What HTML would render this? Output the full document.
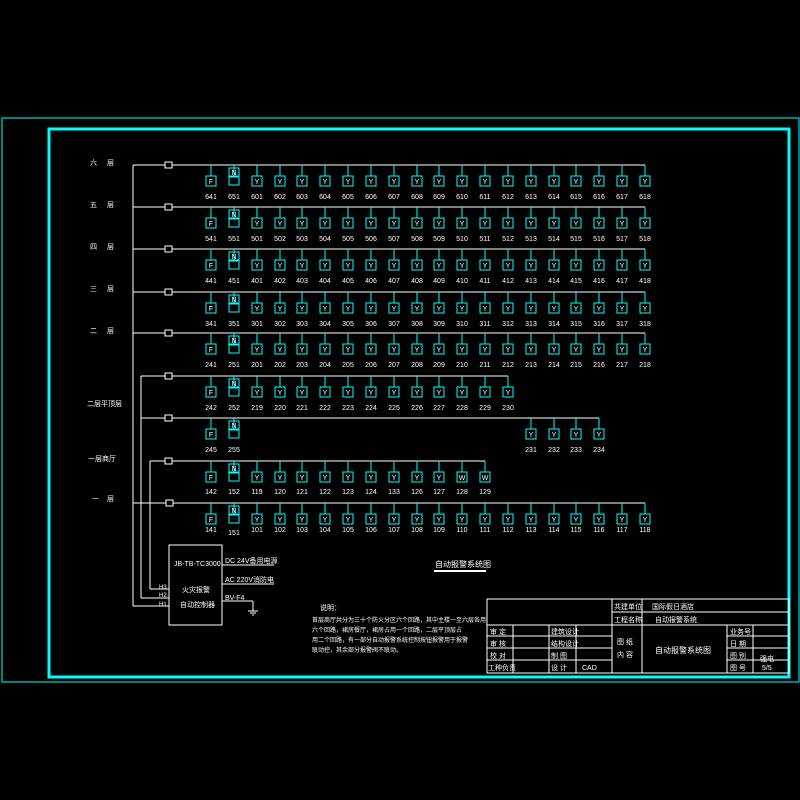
<!DOCTYPE html>
<html><head><meta charset="utf-8"><style>
html,body{margin:0;padding:0;background:#000;width:800px;height:800px;overflow:hidden}
svg{display:block}
text{font-family:"Liberation Sans","Noto Sans CJK SC",sans-serif;fill:#fff}
.l{font-size:7px;text-anchor:middle}
.d{font-size:7px;text-anchor:middle;fill:#0ff}
.c{font-size:7px}
</style></head><body>
<svg width="800" height="800" viewBox="0 0 800 800">
<defs>
<g id="b"><line x1="0" y1="0" x2="0" y2="11" stroke="#0ff"/><rect x="-5" y="11" width="10" height="10" fill="none" stroke="#0ff"/></g>
<g id="n"><line x1="0" y1="0" x2="0" y2="12" stroke="#0ff"/><rect x="-5" y="3" width="10" height="8" fill="none" stroke="#0ff"/><rect x="-5" y="12" width="10" height="8" fill="none" stroke="#0ff"/></g>
</defs>
<rect x="2" y="118" width="797" height="564" fill="none" stroke="#0ff" stroke-width="1"/>
<rect x="49" y="129" width="740" height="548" fill="none" stroke="#0ff" stroke-width="3"/>

<g stroke="#fff" fill="none" stroke-width="1">
<line x1="133" y1="165" x2="133" y2="606"/>
<line x1="141" y1="376" x2="141" y2="598"/>
<line x1="150" y1="461" x2="150" y2="589"/>
<line x1="133" y1="165" x2="645" y2="165"/>
<line x1="133" y1="207" x2="645" y2="207"/>
<line x1="133" y1="249" x2="645" y2="249"/>
<line x1="133" y1="292" x2="645" y2="292"/>
<line x1="133" y1="333" x2="645" y2="333"/>
<line x1="141" y1="376" x2="508" y2="376"/>
<line x1="141" y1="418" x2="599" y2="418"/>
<line x1="150" y1="461" x2="485" y2="461"/>
<line x1="133" y1="503" x2="645" y2="503"/>
<rect x="165" y="162" width="7" height="6" fill="#000"/>
<rect x="165" y="204" width="7" height="6" fill="#000"/>
<rect x="165" y="246" width="7" height="6" fill="#000"/>
<rect x="165" y="289" width="7" height="6" fill="#000"/>
<rect x="165" y="330" width="7" height="6" fill="#000"/>
<rect x="165" y="373" width="7" height="6" fill="#000"/>
<rect x="165" y="415" width="7" height="6" fill="#000"/>
<rect x="165" y="458" width="7" height="6" fill="#000"/>
<rect x="166" y="500" width="7" height="6" fill="#000"/>
<rect x="169" y="545" width="53" height="80"/>
<line x1="150" y1="589" x2="169" y2="589"/>
<line x1="141" y1="598" x2="169" y2="598"/>
<line x1="133" y1="606" x2="169" y2="606"/>
<line x1="222" y1="565" x2="274" y2="565"/>
<line x1="222" y1="584" x2="274" y2="584"/>
<line x1="222" y1="601" x2="253" y2="601"/>
<line x1="253" y1="601" x2="253" y2="611"/>
<line x1="248" y1="611" x2="258" y2="611"/>
<line x1="250" y1="613" x2="256" y2="613"/>
<line x1="252" y1="615" x2="254" y2="615"/>
<line x1="434" y1="571" x2="486" y2="571" stroke-width="2"/>
</g>

<!-- row labels -->
<g class="c">
<text x="90" y="165">六</text><text x="107" y="165">层</text>
<text x="90" y="207">五</text><text x="107" y="207">层</text>
<text x="90" y="249">四</text><text x="107" y="249">层</text>
<text x="90" y="291">三</text><text x="107" y="291">层</text>
<text x="90" y="333">二</text><text x="107" y="333">层</text>
<text x="87" y="406">二层平顶层</text>
<text x="88" y="461">一层商厅</text>
<text x="92" y="501">一</text><text x="107" y="501">层</text>
</g>

<!-- devices: generic rows with 20 columns -->
<g id="rows">
<!-- row 6 -->
<use href="#b" x="211" y="165"/><use href="#n" x="234" y="165"/><use href="#b" x="257" y="165"/><use href="#b" x="280" y="165"/><use href="#b" x="302" y="165"/><use href="#b" x="325" y="165"/><use href="#b" x="348" y="165"/><use href="#b" x="371" y="165"/><use href="#b" x="394" y="165"/><use href="#b" x="417" y="165"/><use href="#b" x="439" y="165"/><use href="#b" x="462" y="165"/><use href="#b" x="485" y="165"/><use href="#b" x="508" y="165"/><use href="#b" x="531" y="165"/><use href="#b" x="554" y="165"/><use href="#b" x="576" y="165"/><use href="#b" x="599" y="165"/><use href="#b" x="622" y="165"/><use href="#b" x="645" y="165"/>
<use href="#b" x="211" y="207"/><use href="#n" x="234" y="207"/><use href="#b" x="257" y="207"/><use href="#b" x="280" y="207"/><use href="#b" x="302" y="207"/><use href="#b" x="325" y="207"/><use href="#b" x="348" y="207"/><use href="#b" x="371" y="207"/><use href="#b" x="394" y="207"/><use href="#b" x="417" y="207"/><use href="#b" x="439" y="207"/><use href="#b" x="462" y="207"/><use href="#b" x="485" y="207"/><use href="#b" x="508" y="207"/><use href="#b" x="531" y="207"/><use href="#b" x="554" y="207"/><use href="#b" x="576" y="207"/><use href="#b" x="599" y="207"/><use href="#b" x="622" y="207"/><use href="#b" x="645" y="207"/>
<use href="#b" x="211" y="249"/><use href="#n" x="234" y="249"/><use href="#b" x="257" y="249"/><use href="#b" x="280" y="249"/><use href="#b" x="302" y="249"/><use href="#b" x="325" y="249"/><use href="#b" x="348" y="249"/><use href="#b" x="371" y="249"/><use href="#b" x="394" y="249"/><use href="#b" x="417" y="249"/><use href="#b" x="439" y="249"/><use href="#b" x="462" y="249"/><use href="#b" x="485" y="249"/><use href="#b" x="508" y="249"/><use href="#b" x="531" y="249"/><use href="#b" x="554" y="249"/><use href="#b" x="576" y="249"/><use href="#b" x="599" y="249"/><use href="#b" x="622" y="249"/><use href="#b" x="645" y="249"/>
<use href="#b" x="211" y="292"/><use href="#n" x="234" y="292"/><use href="#b" x="257" y="292"/><use href="#b" x="280" y="292"/><use href="#b" x="302" y="292"/><use href="#b" x="325" y="292"/><use href="#b" x="348" y="292"/><use href="#b" x="371" y="292"/><use href="#b" x="394" y="292"/><use href="#b" x="417" y="292"/><use href="#b" x="439" y="292"/><use href="#b" x="462" y="292"/><use href="#b" x="485" y="292"/><use href="#b" x="508" y="292"/><use href="#b" x="531" y="292"/><use href="#b" x="554" y="292"/><use href="#b" x="576" y="292"/><use href="#b" x="599" y="292"/><use href="#b" x="622" y="292"/><use href="#b" x="645" y="292"/>
<use href="#b" x="211" y="333"/><use href="#n" x="234" y="333"/><use href="#b" x="257" y="333"/><use href="#b" x="280" y="333"/><use href="#b" x="302" y="333"/><use href="#b" x="325" y="333"/><use href="#b" x="348" y="333"/><use href="#b" x="371" y="333"/><use href="#b" x="394" y="333"/><use href="#b" x="417" y="333"/><use href="#b" x="439" y="333"/><use href="#b" x="462" y="333"/><use href="#b" x="485" y="333"/><use href="#b" x="508" y="333"/><use href="#b" x="531" y="333"/><use href="#b" x="554" y="333"/><use href="#b" x="576" y="333"/><use href="#b" x="599" y="333"/><use href="#b" x="622" y="333"/><use href="#b" x="645" y="333"/>
<use href="#b" x="211" y="376"/><use href="#n" x="234" y="376"/><use href="#b" x="257" y="376"/><use href="#b" x="280" y="376"/><use href="#b" x="302" y="376"/><use href="#b" x="325" y="376"/><use href="#b" x="348" y="376"/><use href="#b" x="371" y="376"/><use href="#b" x="394" y="376"/><use href="#b" x="417" y="376"/><use href="#b" x="439" y="376"/><use href="#b" x="462" y="376"/><use href="#b" x="485" y="376"/><use href="#b" x="508" y="376"/>
<use href="#b" x="211" y="418"/><use href="#n" x="234" y="418"/><use href="#b" x="531" y="418"/><use href="#b" x="554" y="418"/><use href="#b" x="576" y="418"/><use href="#b" x="599" y="418"/>
<use href="#b" x="211" y="461"/><use href="#n" x="234" y="461"/><use href="#b" x="257" y="461"/><use href="#b" x="280" y="461"/><use href="#b" x="302" y="461"/><use href="#b" x="325" y="461"/><use href="#b" x="348" y="461"/><use href="#b" x="371" y="461"/><use href="#b" x="394" y="461"/><use href="#b" x="417" y="461"/><use href="#b" x="439" y="461"/><use href="#b" x="462" y="461"/><use href="#b" x="485" y="461"/>
<use href="#b" x="211" y="503"/><use href="#n" x="234" y="503"/><use href="#b" x="257" y="503"/><use href="#b" x="280" y="503"/><use href="#b" x="302" y="503"/><use href="#b" x="325" y="503"/><use href="#b" x="348" y="503"/><use href="#b" x="371" y="503"/><use href="#b" x="394" y="503"/><use href="#b" x="417" y="503"/><use href="#b" x="439" y="503"/><use href="#b" x="462" y="503"/><use href="#b" x="485" y="503"/><use href="#b" x="508" y="503"/><use href="#b" x="531" y="503"/><use href="#b" x="554" y="503"/><use href="#b" x="576" y="503"/><use href="#b" x="599" y="503"/><use href="#b" x="622" y="503"/><use href="#b" x="645" y="503"/>
</g>

<!-- device letters -->
<g class="d">
<text x="211" y="184">F</text><text x="234" y="175">N</text><text x="257" y="184">Y</text><text x="280" y="184">Y</text><text x="302" y="184">Y</text><text x="325" y="184">Y</text><text x="348" y="184">Y</text><text x="371" y="184">Y</text><text x="394" y="184">Y</text><text x="417" y="184">Y</text><text x="439" y="184">Y</text><text x="462" y="184">Y</text><text x="485" y="184">Y</text><text x="508" y="184">Y</text><text x="531" y="184">Y</text><text x="554" y="184">Y</text><text x="576" y="184">Y</text><text x="599" y="184">Y</text><text x="622" y="184">Y</text><text x="645" y="184">Y</text>
<text x="211" y="226">F</text><text x="234" y="217">N</text><text x="257" y="226">Y</text><text x="280" y="226">Y</text><text x="302" y="226">Y</text><text x="325" y="226">Y</text><text x="348" y="226">Y</text><text x="371" y="226">Y</text><text x="394" y="226">Y</text><text x="417" y="226">Y</text><text x="439" y="226">Y</text><text x="462" y="226">Y</text><text x="485" y="226">Y</text><text x="508" y="226">Y</text><text x="531" y="226">Y</text><text x="554" y="226">Y</text><text x="576" y="226">Y</text><text x="599" y="226">Y</text><text x="622" y="226">Y</text><text x="645" y="226">Y</text>
<text x="211" y="268">F</text><text x="234" y="259">N</text><text x="257" y="268">Y</text><text x="280" y="268">Y</text><text x="302" y="268">Y</text><text x="325" y="268">Y</text><text x="348" y="268">Y</text><text x="371" y="268">Y</text><text x="394" y="268">Y</text><text x="417" y="268">Y</text><text x="439" y="268">Y</text><text x="462" y="268">Y</text><text x="485" y="268">Y</text><text x="508" y="268">Y</text><text x="531" y="268">Y</text><text x="554" y="268">Y</text><text x="576" y="268">Y</text><text x="599" y="268">Y</text><text x="622" y="268">Y</text><text x="645" y="268">Y</text>
<text x="211" y="311">F</text><text x="234" y="302">N</text><text x="257" y="311">Y</text><text x="280" y="311">Y</text><text x="302" y="311">Y</text><text x="325" y="311">Y</text><text x="348" y="311">Y</text><text x="371" y="311">Y</text><text x="394" y="311">Y</text><text x="417" y="311">Y</text><text x="439" y="311">Y</text><text x="462" y="311">Y</text><text x="485" y="311">Y</text><text x="508" y="311">Y</text><text x="531" y="311">Y</text><text x="554" y="311">Y</text><text x="576" y="311">Y</text><text x="599" y="311">Y</text><text x="622" y="311">Y</text><text x="645" y="311">Y</text>
<text x="211" y="352">F</text><text x="234" y="343">N</text><text x="257" y="352">Y</text><text x="280" y="352">Y</text><text x="302" y="352">Y</text><text x="325" y="352">Y</text><text x="348" y="352">Y</text><text x="371" y="352">Y</text><text x="394" y="352">Y</text><text x="417" y="352">Y</text><text x="439" y="352">Y</text><text x="462" y="352">Y</text><text x="485" y="352">Y</text><text x="508" y="352">Y</text><text x="531" y="352">Y</text><text x="554" y="352">Y</text><text x="576" y="352">Y</text><text x="599" y="352">Y</text><text x="622" y="352">Y</text><text x="645" y="352">Y</text>
<text x="211" y="395">F</text><text x="234" y="386">N</text><text x="257" y="395">Y</text><text x="280" y="395">Y</text><text x="302" y="395">Y</text><text x="325" y="395">Y</text><text x="348" y="395">Y</text><text x="371" y="395">Y</text><text x="394" y="395">Y</text><text x="417" y="395">Y</text><text x="439" y="395">Y</text><text x="462" y="395">Y</text><text x="485" y="395">Y</text><text x="508" y="395">Y</text>
<text x="211" y="437">F</text><text x="234" y="428">N</text><text x="531" y="437">Y</text><text x="554" y="437">Y</text><text x="576" y="437">Y</text><text x="599" y="437">Y</text>
<text x="211" y="480">F</text><text x="234" y="471">N</text><text x="257" y="480">Y</text><text x="280" y="480">Y</text><text x="302" y="480">Y</text><text x="325" y="480">Y</text><text x="348" y="480">Y</text><text x="371" y="480">Y</text><text x="394" y="480">Y</text><text x="417" y="480">Y</text><text x="439" y="480">Y</text><text x="462" y="480">W</text><text x="485" y="480">W</text>
<text x="211" y="522">F</text><text x="234" y="513">N</text><text x="257" y="522">Y</text><text x="280" y="522">Y</text><text x="302" y="522">Y</text><text x="325" y="522">Y</text><text x="348" y="522">Y</text><text x="371" y="522">Y</text><text x="394" y="522">Y</text><text x="417" y="522">Y</text><text x="439" y="522">Y</text><text x="462" y="522">Y</text><text x="485" y="522">Y</text><text x="508" y="522">Y</text><text x="531" y="522">Y</text><text x="554" y="522">Y</text><text x="576" y="522">Y</text><text x="599" y="522">Y</text><text x="622" y="522">Y</text><text x="645" y="522">Y</text>
</g>

<!-- numbers -->
<g class="l">
<text x="211" y="199">641</text><text x="234" y="199">651</text><text x="257" y="199">601</text><text x="280" y="199">602</text><text x="302" y="199">603</text><text x="325" y="199">604</text><text x="348" y="199">605</text><text x="371" y="199">606</text><text x="394" y="199">607</text><text x="417" y="199">608</text><text x="439" y="199">609</text><text x="462" y="199">610</text><text x="485" y="199">611</text><text x="508" y="199">612</text><text x="531" y="199">613</text><text x="554" y="199">614</text><text x="576" y="199">615</text><text x="599" y="199">616</text><text x="622" y="199">617</text><text x="645" y="199">618</text>
<text x="211" y="241">541</text><text x="234" y="241">551</text><text x="257" y="241">501</text><text x="280" y="241">502</text><text x="302" y="241">503</text><text x="325" y="241">504</text><text x="348" y="241">505</text><text x="371" y="241">506</text><text x="394" y="241">507</text><text x="417" y="241">508</text><text x="439" y="241">509</text><text x="462" y="241">510</text><text x="485" y="241">511</text><text x="508" y="241">512</text><text x="531" y="241">513</text><text x="554" y="241">514</text><text x="576" y="241">515</text><text x="599" y="241">516</text><text x="622" y="241">517</text><text x="645" y="241">518</text>
<text x="211" y="283">441</text><text x="234" y="283">451</text><text x="257" y="283">401</text><text x="280" y="283">402</text><text x="302" y="283">403</text><text x="325" y="283">404</text><text x="348" y="283">405</text><text x="371" y="283">406</text><text x="394" y="283">407</text><text x="417" y="283">408</text><text x="439" y="283">409</text><text x="462" y="283">410</text><text x="485" y="283">411</text><text x="508" y="283">412</text><text x="531" y="283">413</text><text x="554" y="283">414</text><text x="576" y="283">415</text><text x="599" y="283">416</text><text x="622" y="283">417</text><text x="645" y="283">418</text>
<text x="211" y="326">341</text><text x="234" y="326">351</text><text x="257" y="326">301</text><text x="280" y="326">302</text><text x="302" y="326">303</text><text x="325" y="326">304</text><text x="348" y="326">305</text><text x="371" y="326">306</text><text x="394" y="326">307</text><text x="417" y="326">308</text><text x="439" y="326">309</text><text x="462" y="326">310</text><text x="485" y="326">311</text><text x="508" y="326">312</text><text x="531" y="326">313</text><text x="554" y="326">314</text><text x="576" y="326">315</text><text x="599" y="326">316</text><text x="622" y="326">317</text><text x="645" y="326">318</text>
<text x="211" y="367">241</text><text x="234" y="367">251</text><text x="257" y="367">201</text><text x="280" y="367">202</text><text x="302" y="367">203</text><text x="325" y="367">204</text><text x="348" y="367">205</text><text x="371" y="367">206</text><text x="394" y="367">207</text><text x="417" y="367">208</text><text x="439" y="367">209</text><text x="462" y="367">210</text><text x="485" y="367">211</text><text x="508" y="367">212</text><text x="531" y="367">213</text><text x="554" y="367">214</text><text x="576" y="367">215</text><text x="599" y="367">216</text><text x="622" y="367">217</text><text x="645" y="367">218</text>
<text x="211" y="410">242</text><text x="234" y="410">252</text><text x="257" y="410">219</text><text x="280" y="410">220</text><text x="302" y="410">221</text><text x="325" y="410">222</text><text x="348" y="410">223</text><text x="371" y="410">224</text><text x="394" y="410">225</text><text x="417" y="410">226</text><text x="439" y="410">227</text><text x="462" y="410">228</text><text x="485" y="410">229</text><text x="508" y="410">230</text>
<text x="211" y="452">245</text><text x="234" y="452">255</text><text x="531" y="452">231</text><text x="554" y="452">232</text><text x="576" y="452">233</text><text x="599" y="452">234</text>
<text x="211" y="494">142</text><text x="234" y="494">152</text><text x="257" y="494">119</text><text x="280" y="494">120</text><text x="302" y="494">121</text><text x="325" y="494">122</text><text x="348" y="494">123</text><text x="371" y="494">124</text><text x="394" y="494">133</text><text x="417" y="494">126</text><text x="439" y="494">127</text><text x="462" y="494">128</text><text x="485" y="494">129</text>
<text x="211" y="532">141</text><text x="234" y="535">151</text><text x="257" y="532">101</text><text x="280" y="532">102</text><text x="302" y="532">103</text><text x="325" y="532">104</text><text x="348" y="532">105</text><text x="371" y="532">106</text><text x="394" y="532">107</text><text x="417" y="532">108</text><text x="439" y="532">109</text><text x="462" y="532">110</text><text x="485" y="532">111</text><text x="508" y="532">112</text><text x="531" y="532">113</text><text x="554" y="532">114</text><text x="576" y="532">115</text><text x="599" y="532">116</text><text x="622" y="532">117</text><text x="645" y="532">118</text>
</g>

<!-- controller texts -->
<g class="c">
<text x="174" y="566" font-size="7">JB-TB-TC3000</text>
<text x="182" y="592">火灾报警</text>
<text x="180" y="607">自动控制器</text>
<text x="225" y="563">DC 24V备用电源</text>
<text x="225" y="582">AC 220V消防电</text>
<text x="225" y="600">BV-F4</text>
<text x="159" y="589" font-size="6">H3</text>
<text x="159" y="597" font-size="6">H2</text>
<text x="159" y="606" font-size="6">H1</text>
<text x="435" y="567" font-size="8">自动报警系统图</text>
<text x="320" y="610">说明：</text>
<text x="312" y="622" font-size="6">首层商厅共分为三十个防火分区六个回路，其中主楼一至六层各用</text>
<text x="312" y="632" font-size="6">六个回路，裙房餐厅，裙房占用一个回路，二层平顶层占</text>
<text x="312" y="642" font-size="6">用二个回路，有一部分自动报警系统控制按钮报警用于报警</text>
<text x="312" y="652" font-size="6">联动控，其余部分报警阀不联动。</text>
</g>

<!-- title block -->
<g stroke="#fff" fill="none">
<rect x="487" y="599" width="302" height="74"/>
<line x1="612" y1="612" x2="789" y2="612"/>
<line x1="487" y1="625" x2="789" y2="625"/>
<line x1="487" y1="636" x2="612" y2="636"/><line x1="727" y1="636" x2="789" y2="636"/>
<line x1="487" y1="648" x2="612" y2="648"/><line x1="727" y1="648" x2="789" y2="648"/>
<line x1="487" y1="660" x2="612" y2="660"/><line x1="727" y1="660" x2="789" y2="660"/>
<line x1="612" y1="599" x2="612" y2="673"/>
<line x1="642" y1="599" x2="642" y2="673"/>
<line x1="513" y1="625" x2="513" y2="673"/>
<line x1="549" y1="625" x2="549" y2="673"/>
<line x1="576" y1="625" x2="576" y2="673"/>
<line x1="727" y1="625" x2="727" y2="673"/>
<line x1="753" y1="625" x2="753" y2="673"/>
</g>
<g class="c" font-size="6">
<text x="614" y="609">共建单位</text><text x="652" y="609">国际假日酒店</text>
<text x="614" y="622">工程名称</text><text x="655" y="622">自动报警系统</text>
<text x="490" y="634">审 定</text><text x="551" y="634">建筑设计</text>
<text x="490" y="646">审 核</text><text x="551" y="646">结构设计</text>
<text x="490" y="658">校 对</text><text x="551" y="658">制 图</text>
<text x="488" y="670">工种负责</text><text x="551" y="670">设 计</text><text x="582" y="670">CAD</text>
<text x="617" y="644">图 纸</text><text x="617" y="657">内 容</text>
<text x="655" y="653" font-size="8">自动报警系统图</text>
<text x="730" y="634">业务号</text>
<text x="730" y="646">日 期</text>
<text x="730" y="658">图 别</text><text x="760" y="661">强电</text>
<text x="730" y="670">图 号</text><text x="762" y="670">5/5</text>
</g>
</svg>
</body></html>
